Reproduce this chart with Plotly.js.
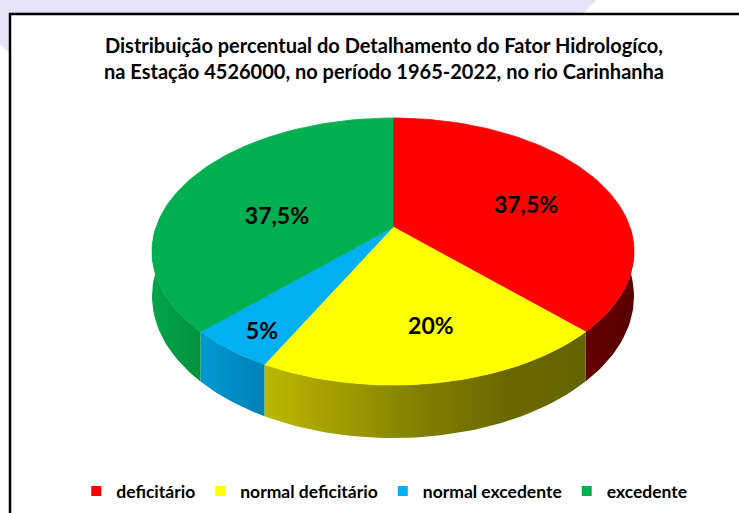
<!DOCTYPE html>
<html><head><meta charset="utf-8">
<script src="https://cdn.plot.ly/plotly-3.0.1.min.js"></script>
<style>html,body{margin:0;padding:0;background:#fff;}#chart{width:739px;height:513px;}</style>
</head><body><div id="chart"></div>
<script>
// ---- data ----
const categories = ['deficitário', 'normal deficitário', 'normal excedente', 'excedente'];
const values = [37.5, 20, 5, 37.5];
const titleLines = ['Distribuição percentual do Detalhamento do Fator Hidrologíco,',
                    'na Estação 4526000, no período 1965-2022, no rio Carinhanha'];

// ---- styles ----
const topColors = ['#ff0000', '#ffff00', '#00b0f0', '#00b050'];
const wallScales = [
  [[0, '#640000'], [1, '#580000']],
  [[0, '#bcb900'], [0.45, '#858300'], [0.75, '#6a6900'], [1, '#646400']],
  [[0, '#0098d2'], [1, '#0082b6']],
  [[0, '#00a548'], [1, '#00923e']]
];
const labelRadius = [0.60, 0.70, 0.86, 0.50];
const labelTurn = [7, -2.5, -2, -15];

// ---- 3D projection (pixel space axes) ----
const G = {cx: 393, cy: 227, A: 236.9, B: 129, k: 0.1835, D: 43.3};
function P(f, deg, depth) {
  const t = deg * Math.PI / 180;
  const u = f * Math.sin(t), v = -f * Math.cos(t);
  const s = 1 / (1 - G.k * v);
  return [G.cx + G.A * u * s, G.cy + (G.B * v + G.D * depth) * s];
}
function arc(a, b, depth) {
  const n = Math.max(4, Math.ceil(Math.abs(b - a) / 1.5));
  const pts = [];
  for (let i = 0; i <= n; i++) pts.push(P(1, a + (b - a) * i / n, depth));
  return pts;
}

const total = values.reduce((s, v) => s + v, 0);
const starts = [], ends = [];
let acc = 0;
values.forEach(v => { starts.push(acc / total * 360); acc += v; ends.push(acc / total * 360); });

const traces = [];
// walls
values.forEach((v, i) => {
  const a = Math.max(starts[i], 90), b = Math.min(ends[i], 270);
  if (a >= b) return;
  const pts = arc(a, b, 0).concat(arc(b, a, 1));
  pts.push(pts[0]);
  traces.push({
    type: 'scatter', mode: 'lines', x: pts.map(p => p[0]), y: pts.map(p => p[1]),
    fill: 'toself', line: {width: 0, color: wallScales[i][0][1]},
    fillgradient: {type: 'horizontal', colorscale: wallScales[i]},
    fillcolor: wallScales[i][0][1],
    showlegend: false, hoverinfo: 'skip'
  });
});
// top faces
values.forEach((v, i) => {
  const c = P(0, 0, 0);
  const pts = [c].concat(arc(starts[i], ends[i], 0)).concat([c]);
  traces.push({
    type: 'scatter', mode: 'lines', x: pts.map(p => p[0]), y: pts.map(p => p[1]),
    fill: 'toself', fillcolor: topColors[i], line: {width: 0.8, color: topColors[i]},
    showlegend: false, hoverinfo: 'skip'
  });
});
// labels
const lp = values.map((v, i) => P(labelRadius[i], (starts[i] + ends[i]) / 2 + labelTurn[i], 0));
traces.push({
  type: 'scatter', mode: 'text', x: lp.map(p => p[0]), y: lp.map(p => p[1]),
  text: values.map(v => String(v).replace('.', ',') + '%'),
  textposition: 'middle center',
  textfont: {family: 'Lato, "Open Sans", sans-serif', size: 23, weight: 'bold', color: '#000'},
  showlegend: false, hoverinfo: 'skip'
});
// legend entries
categories.forEach((c, i) => {
  traces.push({
    type: 'scatter', mode: 'markers', x: [null], y: [null], name: c,
    marker: {symbol: 'square', size: 10, color: topColors[i]}, showlegend: true
  });
});

const layout = {
  width: 739, height: 513,
  margin: {l: 0, r: 0, t: 0, b: 0},
  paper_bgcolor: '#ffffff', plot_bgcolor: 'rgba(0,0,0,0)',
  xaxis: {range: [0, 739], visible: false, fixedrange: true},
  yaxis: {range: [513, 0], visible: false, fixedrange: true},
  title: {
    text: titleLines.join('<br>'),
    x: 384 / 739, xanchor: 'center', y: 1 - 53 / 513, yanchor: 'middle',
    font: {family: 'Lato, "Open Sans", sans-serif', size: 20, weight: 'bold', color: '#000'}
  },
  showlegend: true,
  legend: {
    orientation: 'h', x: 0.52, xanchor: 'center', y: 1 - 491 / 513, yanchor: 'middle',
    font: {family: 'Lato, "Open Sans", sans-serif', size: 17.5, weight: 'bold', color: '#000'},
    bgcolor: 'rgba(0,0,0,0)', itemclick: false, itemdoubleclick: false
  },
  shapes: [
    {type: 'circle', xref: 'x', yref: 'y', x0: 274 - 439, x1: 274 + 439, y0: -298 - 439, y1: -298 + 439,
     fillcolor: '#e5e5f7', line: {width: 0}, layer: 'below'},
    {type: 'rect', xref: 'x', yref: 'y', x0: 10, x1: 800, y0: 14, y1: 560,
     fillcolor: '#ffffff', line: {width: 2.5, color: '#000'}, layer: 'below'}
  ],
  hovermode: false
};

Plotly.newPlot('chart', traces, layout, {displayModeBar: false, staticPlot: true});
</script>
</body></html>
